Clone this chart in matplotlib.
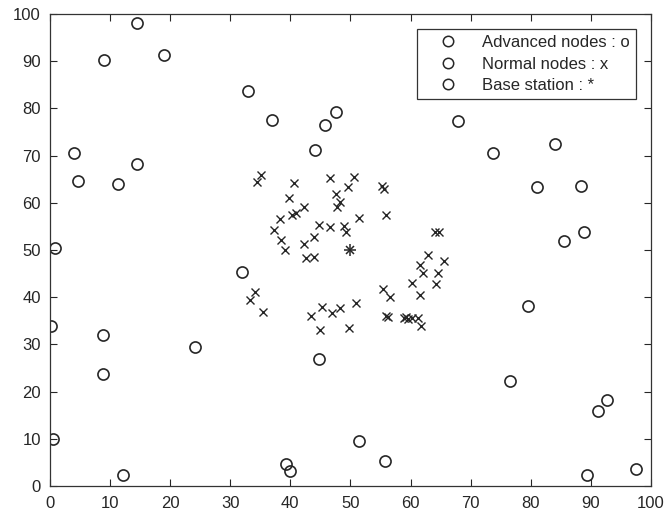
import matplotlib
matplotlib.use("Agg")
import matplotlib.pyplot as plt

plt.rcParams['font.family'] = ['Liberation Sans', 'DejaVu Sans']

# advanced nodes (circles)
adv_x = [14.4, 9.0, 18.9, 33.0, 37.0, 47.6, 45.8, 44.1, 67.9, 4.05, 4.7, 11.3,
         14.5, 0.8, 32.0, 0.2, 8.9, 8.9, 24.1, 0.45, 12.1, 44.8, 39.3, 40.0,
         51.5, 55.8, 73.7, 84.1, 81.1, 88.4, 85.5, 88.9, 79.6, 76.5, 91.2,
         92.7, 89.4, 97.6]
adv_y = [98.0, 90.3, 91.2, 83.7, 77.6, 79.2, 76.5, 71.2, 77.3, 70.6, 64.6, 64.0,
         68.3, 50.4, 45.4, 33.8, 32.0, 23.7, 29.4, 10.0, 2.3, 26.9, 4.6, 3.2,
         9.5, 5.2, 70.5, 72.4, 63.3, 63.6, 51.8, 53.8, 38.1, 22.2, 15.9,
         18.2, 2.3, 3.6]

# normal nodes (crosses)
norm_x = [35.1, 34.4, 40.6, 46.6, 50.6, 49.6, 55.3, 55.6, 39.7, 47.6, 48.3,
          47.8, 42.3, 40.3, 40.9, 55.9, 51.5, 38.3, 44.8, 46.6, 48.9, 49.2,
          37.2, 43.9, 38.4, 42.3, 39.1, 42.6, 43.9,
          64.1, 64.7, 62.9, 65.6, 61.6, 62.0, 64.6, 60.3, 64.3, 55.4, 56.6,
          61.6, 34.1, 33.2, 35.5, 43.4, 45.2, 46.9, 48.3, 50.9, 44.9, 49.8,
          55.9, 56.3, 58.9, 59.2, 59.6, 60.3, 61.3, 61.8]
norm_y = [65.9, 64.3, 64.1, 65.2, 65.5, 63.3, 63.5, 62.9, 61.1, 61.8, 60.2,
          59.2, 59.0, 57.4, 57.8, 57.4, 56.7, 56.5, 55.3, 54.9, 55.1, 53.9,
          54.2, 52.7, 52.1, 51.2, 49.9, 48.2, 48.5,
          53.9, 53.9, 48.9, 47.7, 46.8, 45.2, 45.2, 42.9, 42.8, 41.7, 40.1,
          40.5, 41.2, 39.4, 36.9, 36.0, 37.9, 36.7, 37.8, 38.7, 33.1, 33.4,
          36.0, 35.9, 35.5, 35.7, 35.4, 35.5, 35.5, 33.8]

# base station
bs_x = [50]
bs_y = [50]

labels = ['Advanced nodes : o', 'Normal nodes : x', 'Base station : *']

fig = plt.figure(figsize=(6.64, 5.17), dpi=100)
ax = fig.add_axes([0.0753, 0.06, 0.905, 0.913])

ink = '0.15'
ax.plot(adv_x, adv_y, 'o', mfc='none', mec=ink, ms=8, mew=1.2, ls='none')
ax.plot(norm_x, norm_y, 'x', color=ink, ms=6, mew=1.0, ls='none')
# matlab style asterisk = plus + cross
ax.plot(bs_x, bs_y, '+', color=ink, ms=8.5, mew=1.1, ls='none')
ax.plot(bs_x, bs_y, 'x', color=ink, ms=6, mew=1.1, ls='none')

# legend shows circles for every entry, as in the original figure
handles = [plt.Line2D([], [], marker='o', mfc='none', mec=ink, ms=7.5, mew=1.1,
                      ls='none') for _ in labels]
leg = ax.legend(handles, labels, loc='upper right',
                bbox_to_anchor=(0.975, 0.968), borderaxespad=0,
                prop={'size': 12}, frameon=True, fancybox=False,
                edgecolor='0.2', framealpha=1,
                handletextpad=0.57, borderpad=0.35, labelspacing=0.4,
                handlelength=3.0)
leg.get_frame().set_linewidth(0.9)
for t in leg.get_texts():
    t.set_color('0.15')

ax.set_xlim(0, 100)
ax.set_ylim(0, 100)
ax.set_xticks(range(0, 101, 10))
ax.set_yticks(range(0, 101, 10))
ax.tick_params(direction='in', top=True, right=True, length=5, width=0.8,
               labelsize=12, colors='0.15')
ax.tick_params(axis='x', pad=7.5)
ax.tick_params(axis='y', pad=6.5)
for s in ax.spines.values():
    s.set_color('0.2')
    s.set_linewidth(0.9)

fig.savefig('out.png', dpi=100)
